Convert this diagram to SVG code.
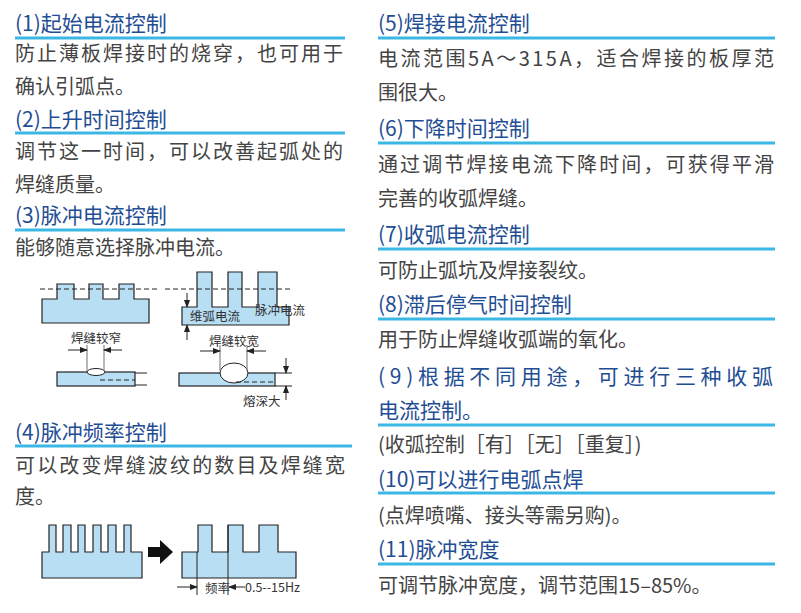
<svg xmlns="http://www.w3.org/2000/svg" width="801" height="613" viewBox="0 0 801 613">
<defs>
<style>
.h{font-family:"Noto Sans CJK SC","Liberation Sans",sans-serif;font-size:21px;fill:#1f4e94}
.b{font-family:"Noto Sans CJK SC","Liberation Sans",sans-serif;font-size:20px;fill:#444}
.s{font-family:"Noto Sans CJK SC","Liberation Sans",sans-serif;font-size:12.5px;fill:#333}
.u{stroke:#3ab7e3;stroke-width:3}
.w{fill:#b8def4;stroke:#222;stroke-width:1.2}
.l{stroke:#222;stroke-width:1;fill:none}
.g{stroke:#888;stroke-width:1.2;fill:none}
.d{stroke:#222;stroke-width:1;stroke-dasharray:5 3;fill:none}
</style>
<marker id="a" markerWidth="8" markerHeight="8" refX="7" refY="4" orient="auto" markerUnits="userSpaceOnUse"><path d="M0,1 L8,4 L0,7Z" fill="#222"/></marker>
</defs>
<rect width="801" height="613" fill="#fff"/>
<g id="left-text">
<text class="h" x="15" y="31">(1)起始电流控制</text><line class="u" x1="15" y1="38" x2="345" y2="38"/>
<text class="b" x="15" y="61" textLength="328">防止薄板焊接时的烧穿，也可用于</text>
<text class="b" x="15" y="94">确认引弧点。</text>
<text class="h" x="15" y="127">(2)上升时间控制</text><line class="u" x1="15" y1="133" x2="345" y2="133"/>
<text class="b" x="15" y="159" textLength="328">调节这一时间，可以改善起弧处的</text>
<text class="b" x="15" y="192">焊缝质量。</text>
<text class="h" x="15" y="223">(3)脉冲电流控制</text><line class="u" x1="15" y1="230" x2="345" y2="230"/>
<text class="b" x="15" y="255">能够随意选择脉冲电流。</text>
<text class="h" x="15" y="440">(4)脉冲频率控制</text><line class="u" x1="15" y1="446" x2="352" y2="446"/>
<text class="b" x="15" y="473" textLength="330">可以改变焊缝波纹的数目及焊缝宽</text>
<text class="b" x="15" y="504">度。</text>
</g>
<g id="right-text">
<text class="h" x="378" y="31">(5)焊接电流控制</text><line class="u" x1="378" y1="38" x2="775" y2="38"/>
<text class="b" x="378" y="66" textLength="396">电流范围5A～315A，适合焊接的板厚范</text>
<text class="b" x="378" y="100">围很大。</text>
<text class="h" x="378" y="136">(6)下降时间控制</text><line class="u" x1="378" y1="143" x2="775" y2="143"/>
<text class="b" x="378" y="172" textLength="396">通过调节焊接电流下降时间，可获得平滑</text>
<text class="b" x="378" y="206">完善的收弧焊缝。</text>
<text class="h" x="378" y="242">(7)收弧电流控制</text><line class="u" x1="378" y1="249" x2="775" y2="249"/>
<text class="b" x="378" y="278">可防止弧坑及焊接裂纹。</text>
<text class="h" x="378" y="312">(8)滞后停气时间控制</text><line class="u" x1="378" y1="319" x2="775" y2="319"/>
<text class="b" x="378" y="347">用于防止焊缝收弧端的氧化。</text>
<text class="h" x="378" y="384" textLength="395">(9)根据不同用途，可进行三种收弧</text>
<text class="h" x="378" y="418">电流控制。</text><line class="u" x1="378" y1="425" x2="775" y2="425"/>
<text class="b" x="378" y="452" font-size="18">(收弧控制［有］［无］［重复］)</text>
<text class="h" x="378" y="487">(10)可以进行电弧点焊</text><line class="u" x1="378" y1="493" x2="775" y2="493"/>
<text class="b" x="378" y="523" font-size="17.5">(点焊喷嘴、接头等需另购)。</text>
<text class="h" x="378" y="557">(11)脉冲宽度</text><line class="u" x1="378" y1="564" x2="775" y2="564"/>
<text class="b" x="378" y="593">可调节脉冲宽度，调节范围15–85%。</text>
</g>
<g id="fig3">
<path class="w" d="M42,323 V299 H57 V284 H74 V299 H89 V284 H103 V299 H119 V284 H134 V299 H149 V323 Z"/>
<path class="w" d="M182,325 V307 H197 V272 H212 V307 H228 V272 H242 V307 H258 V272 H277 V307 H289 V325 Z"/>
<line class="d" x1="40" y1="289" x2="158" y2="289"/>
<line class="d" x1="165" y1="289" x2="290" y2="289"/>
<line class="l" x1="187" y1="293" x2="187" y2="307" marker-end="url(#a)"/>
<line class="l" x1="187" y1="340" x2="187" y2="325" marker-end="url(#a)"/>
<text class="s" x="190" y="321">维弧电流</text>
<text class="s" x="255" y="315">脉冲电流</text>
<rect class="w" x="57" y="372" width="78" height="14"/>
<path class="l" d="M135,373 H147 M135,385 H147"/>
<line class="d" x1="100" y1="380" x2="135" y2="380"/>
<ellipse cx="96" cy="372" rx="9" ry="3.5" fill="#fff" stroke="#222"/>
<path class="g" d="M87,345 V371 M104,345 V371"/>
<line class="l" x1="68" y1="350" x2="87" y2="350" marker-end="url(#a)"/>
<line class="l" x1="122" y1="350" x2="104" y2="350" marker-end="url(#a)"/>
<text class="s" x="96" y="343" text-anchor="middle">焊缝较窄</text>
<rect class="w" x="179" y="373" width="96" height="13"/>
<ellipse cx="234" cy="373" rx="14" ry="10" fill="#fff" stroke="#222"/>
<line class="d" x1="236" y1="382" x2="275" y2="382"/>
<path class="g" d="M220,345 V371 M247,345 V371"/>
<line class="l" x1="200" y1="351" x2="220" y2="351" marker-end="url(#a)"/>
<line class="l" x1="266" y1="351" x2="247" y2="351" marker-end="url(#a)"/>
<text class="s" x="234" y="346" text-anchor="middle">焊缝较宽</text>
<path class="l" d="M275,373 H292 M275,386 H292"/>
<line class="l" x1="286" y1="358" x2="286" y2="373" marker-end="url(#a)"/>
<line class="l" x1="286" y1="400" x2="286" y2="386" marker-end="url(#a)"/>
<text class="s" x="243" y="406">熔深大</text>
</g>
<g id="fig4">
<path class="w" d="M42,578 V552 H49 V525 H56 V552 H63 V525 H71 V552 H78 V525 H85 V552 H93 V525 H101 V552 H108 V525 H116 V552 H124 V525 H131 V552 H142 V578 Z"/>
<path d="M148,547 H160 V540 L173,552 L160,564 V557 H148 Z" fill="#111"/>
<path class="w" d="M182,578 V552 H198 V525 H212 V552 H228 V525 H243 V552 H259 V525 H278 V552 H296 V578 Z"/>
<path class="l" d="M197,552 V595 M228,525 V595"/>
<line class="l" x1="177" y1="587" x2="197" y2="587" marker-end="url(#a)"/>
<line class="l" x1="245" y1="587" x2="229" y2="587" marker-end="url(#a)"/>
<text class="s" x="205" y="593" font-size="10">频率</text>
<text class="s" x="245" y="592" font-size="11">0.5--15Hz</text>
</g>
</svg>
